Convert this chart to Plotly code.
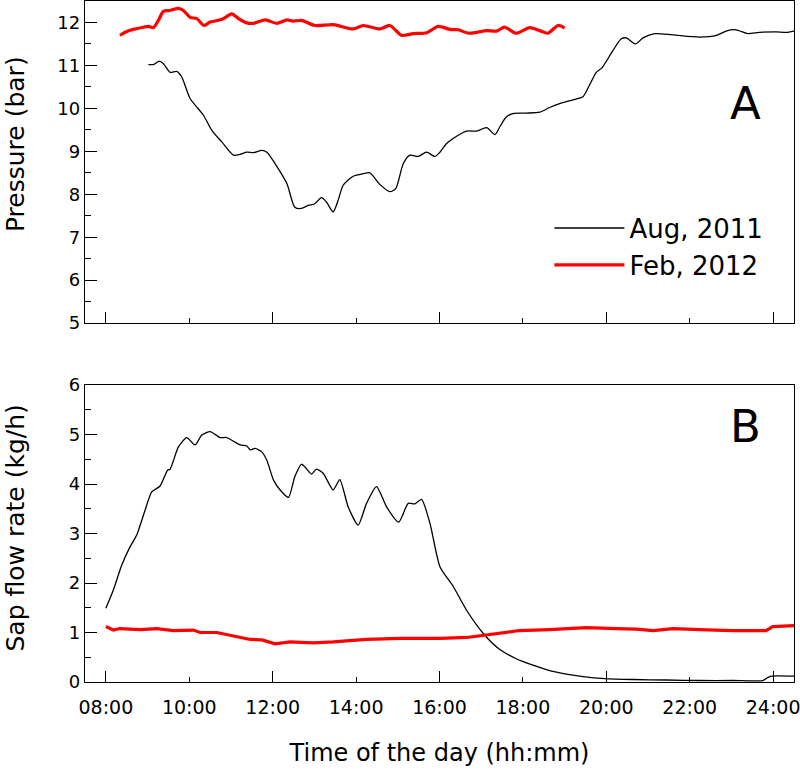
import plotly.graph_objects as go

# ---------------- data ----------------
# Panel A: pressure (bar) vs time of day (hours)
aug_p_t = [9.02, 9.14, 9.28, 9.38, 9.54, 9.70, 9.82, 10.02, 10.34, 10.54, 10.78, 11.06, 11.22, 11.38,
           11.54, 11.74, 11.86, 12.06, 12.34, 12.53, 12.69, 12.85, 13.01, 13.17, 13.29, 13.45, 13.57,
           13.69, 13.93, 14.17, 14.33, 14.57, 14.81, 14.95, 15.13, 15.29, 15.49, 15.69, 15.89, 16.01,
           16.17, 16.41, 16.65, 16.89, 17.13, 17.33, 17.44, 17.60, 17.76, 18.08, 18.40, 18.64, 18.88,
           19.20, 19.44, 19.60, 19.76, 19.90, 20.16, 20.36, 20.48, 20.70, 20.88, 21.16, 21.60, 22.24,
           22.64, 22.87, 23.11, 23.39, 23.67, 24.07, 24.31, 24.50]
aug_p_v = [11.02, 11.02, 11.10, 11.04, 10.84, 10.86, 10.73, 10.23, 9.84, 9.49, 9.22, 8.91, 8.93, 8.98,
           8.97, 9.02, 8.98, 8.71, 8.25, 7.70, 7.67, 7.74, 7.78, 7.92, 7.82, 7.59, 7.86,
           8.21, 8.42, 8.48, 8.50, 8.23, 8.06, 8.13, 8.71, 8.91, 8.88, 8.98, 8.88, 8.98,
           9.18, 9.35, 9.47, 9.47, 9.55, 9.39, 9.56, 9.80, 9.88, 9.89, 9.91, 10.02, 10.11,
           10.20, 10.27, 10.55, 10.84, 10.95, 11.35, 11.62, 11.64, 11.50, 11.64, 11.74, 11.71, 11.66,
           11.70, 11.80, 11.83, 11.74, 11.77, 11.78, 11.77, 11.80]

feb_p_t = [8.34, 8.50, 8.66, 8.90, 9.02, 9.14, 9.26, 9.38, 9.54, 9.74, 9.86, 10.02, 10.18, 10.35,
           10.50, 10.70, 10.82, 11.02, 11.18, 11.38, 11.54, 11.82, 12.10, 12.34, 12.49, 12.69, 13.01,
           13.45, 13.93, 14.17, 14.57, 14.81, 15.09, 15.37, 15.69, 15.97, 16.25, 16.45, 16.69, 16.89,
           17.13, 17.37, 17.56, 17.84, 18.16, 18.40, 18.60, 18.84, 19.00]
feb_p_v = [11.70, 11.79, 11.84, 11.89, 11.91, 11.88, 12.05, 12.26, 12.28, 12.33, 12.28, 12.12, 12.09, 11.93,
           12.01, 12.05, 12.09, 12.20, 12.09, 11.99, 11.98, 12.06, 11.98, 12.06, 12.03, 12.05, 11.93,
           11.95, 11.85, 11.93, 11.85, 11.93, 11.70, 11.74, 11.76, 11.91, 11.84, 11.83, 11.75, 11.77,
           11.81, 11.80, 11.89, 11.75, 11.88, 11.81, 11.75, 11.93, 11.87]

# Panel B: sap flow rate (kg/h) vs time of day (hours)
aug_s_t = [8.00, 8.18, 8.38, 8.58, 8.74, 8.94, 9.10, 9.30, 9.48, 9.54, 9.74, 9.94, 10.14, 10.30,
           10.50, 10.74, 10.90, 11.22, 11.38, 11.46, 11.58, 11.74, 11.86, 12.02, 12.18, 12.38, 12.53,
           12.69, 12.77, 12.93, 13.05, 13.21, 13.45, 13.61, 13.81, 14.05, 14.25, 14.49, 14.73, 15.02,
           15.25, 15.41, 15.57, 15.77, 16.01, 16.33, 16.65, 17.05, 17.44, 17.84, 18.24, 18.64, 19.04,
           19.44, 19.96, 20.64, 21.44, 22.24, 23.03, 23.75, 23.87, 23.95, 24.50]
aug_s_v = [1.49, 1.86, 2.36, 2.73, 2.97, 3.47, 3.84, 3.96, 4.28, 4.30, 4.75, 4.94, 4.79, 4.99,
           5.06, 4.94, 4.94, 4.79, 4.77, 4.69, 4.72, 4.65, 4.48, 4.08, 3.88, 3.73, 4.15,
           4.40, 4.35, 4.20, 4.30, 4.22, 3.88, 4.09, 3.54, 3.17, 3.61, 3.95, 3.54, 3.23,
           3.61, 3.60, 3.69, 3.21, 2.33, 1.93, 1.45, 0.98, 0.66, 0.47, 0.34, 0.23, 0.16,
           0.11, 0.07, 0.05, 0.04, 0.03, 0.03, 0.03, 0.09, 0.12, 0.12]

feb_s_t = [8.00, 8.18, 8.34, 8.82, 9.22, 9.62, 10.10, 10.26, 10.66, 11.06, 11.46, 11.74, 12.06, 12.42,
           12.97, 13.45, 14.25, 15.05, 16.01, 16.65, 17.13, 17.44, 17.92, 18.64, 19.52, 20.24, 20.72,
           21.12, 21.60, 22.24, 23.03, 23.83, 23.99, 24.50]
feb_s_v = [1.12, 1.05, 1.08, 1.06, 1.08, 1.04, 1.05, 1.00, 1.00, 0.93, 0.86, 0.85, 0.77, 0.81,
           0.79, 0.81, 0.86, 0.88, 0.88, 0.90, 0.95, 0.98, 1.04, 1.06, 1.10, 1.08, 1.07,
           1.04, 1.08, 1.06, 1.04, 1.04, 1.12, 1.14]

label_hours = [8, 10, 12, 14, 16, 18, 20, 22, 24]
tick_labels = ["08:00", "10:00", "12:00", "14:00", "16:00", "18:00", "20:00", "22:00", "24:00"]
long_tick_hours = [8, 12, 16, 20, 24]
short_tick_hours = [10, 14, 18, 22]

series_names = ["Aug, 2011", "Feb, 2012"]

# ---------------- figure ----------------
FONT = "DejaVu Sans, Liberation Sans, Arial, sans-serif"
fig = go.Figure()

fig.add_trace(go.Scatter(x=aug_p_t, y=aug_p_v, mode="lines", name=series_names[0],
                         line=dict(color="black", width=1.3, shape="spline", smoothing=0.7),
                         xaxis="x", yaxis="y"))
fig.add_trace(go.Scatter(x=feb_p_t, y=feb_p_v, mode="lines", name=series_names[1],
                         line=dict(color="#ff0000", width=3.2, shape="spline", smoothing=0.7),
                         xaxis="x", yaxis="y"))
fig.add_trace(go.Scatter(x=aug_s_t, y=aug_s_v, mode="lines", showlegend=False,
                         line=dict(color="black", width=1.3, shape="spline", smoothing=0.6),
                         xaxis="x2", yaxis="y2"))
fig.add_trace(go.Scatter(x=feb_s_t, y=feb_s_v, mode="lines", showlegend=False,
                         line=dict(color="#ff0000", width=3.2),
                         xaxis="x2", yaxis="y2"))
fig.add_trace(go.Scatter(x=[None], y=[None], mode="lines", showlegend=False,
                         xaxis="x3", yaxis="y2", hoverinfo="skip"))

XR = [7.5, 24.5]
axis_common = dict(showline=True, linecolor="black", linewidth=1.3, mirror=True,
                   showgrid=False, zeroline=False, ticks="inside", tickcolor="black",
                   tickwidth=1.3)

fig.update_layout(
    width=800, height=771,
    margin=dict(l=85, r=6, t=1, b=89, autoexpand=False),
    paper_bgcolor="white", plot_bgcolor="white",
    font=dict(family=FONT, color="black"),
    xaxis=dict(axis_common, domain=[0, 1], anchor="y", range=XR,
               tickmode="array", tickvals=long_tick_hours, ticklen=11,
               showticklabels=False,
               minor=dict(tickmode="array", tickvals=short_tick_hours, ticklen=5,
                          ticks="inside", tickcolor="black", tickwidth=1.3)),
    yaxis=dict(axis_common, domain=[0.527, 1], anchor="x", range=[5, 12.5],
               tickmode="linear", tick0=5, dtick=1, ticklen=12,
               tickfont=dict(size=18),
               minor=dict(dtick=0.5, ticklen=6, ticks="inside", tickcolor="black", tickwidth=1.3)),
    xaxis2=dict(axis_common, domain=[0, 1], anchor="y2", range=XR,
                tickmode="array", tickvals=label_hours, ticktext=tick_labels, ticklen=5,
                tickfont=dict(size=19), ticklabelstandoff=8, ticklabeloverflow="allow",
                title=dict(text="Time of the day (hh:mm)", font=dict(size=24), standoff=27)),
    xaxis3=dict(overlaying="x2", anchor="y2", range=XR, showline=False, showgrid=False,
                zeroline=False, ticks="inside", tickcolor="black", tickwidth=1.3,
                tickmode="array", tickvals=long_tick_hours, ticklen=11, showticklabels=False),
    yaxis2=dict(axis_common, domain=[0, 0.436], anchor="x2", range=[0, 6],
                tickmode="linear", tick0=0, dtick=1, ticklen=12,
                tickfont=dict(size=18),
                minor=dict(dtick=0.5, ticklen=6, ticks="inside", tickcolor="black", tickwidth=1.3)),
    legend=dict(x=0.655, y=0.701, xanchor="left", yanchor="top",
                font=dict(size=26), bgcolor="rgba(0,0,0,0)", itemwidth=70,
                tracegroupgap=0),
    showlegend=True,
    annotations=[
        dict(text="Pressure (bar)", textangle=-90, xref="paper", yref="y domain",
             x=-0.0987, y=0.556, xanchor="center", yanchor="middle",
             showarrow=False, font=dict(size=25)),
        dict(text="Sap flow rate (kg/h)", textangle=-90, xref="paper", yref="y2 domain",
             x=-0.0987, y=0.517, xanchor="center", yanchor="middle",
             showarrow=False, font=dict(size=25)),
        dict(text="A", xref="x domain", yref="y domain", x=0.931, y=0.682,
             xanchor="center", yanchor="middle", showarrow=False, font=dict(size=45)),
        dict(text="B", xref="x2 domain", yref="y2 domain", x=0.931, y=0.859,
             xanchor="center", yanchor="middle", showarrow=False, font=dict(size=45)),
    ],
)

fig.write_html("out.html", config={"displayModeBar": False},
               post_script="document.body.style.margin='0';document.body.style.padding='0';"
                           "document.body.style.overflow='hidden';")
